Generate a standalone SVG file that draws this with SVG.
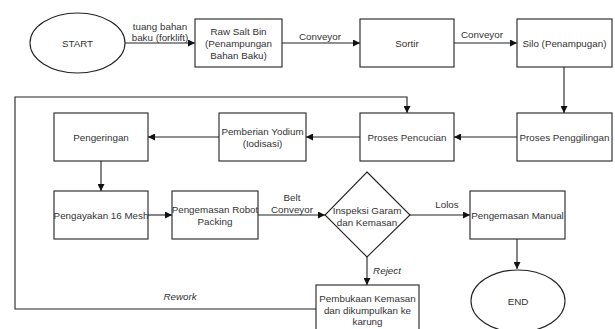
<svg xmlns="http://www.w3.org/2000/svg" width="615" height="329" viewBox="0 0 615 329">
<style>
.n{fill:#fff;stroke:#222;stroke-width:1.1}
.t{font-family:"Liberation Sans",Arial,sans-serif;font-size:9.8px;fill:#333;text-anchor:middle}
.i{font-style:italic}
.e{fill:none;stroke:#222;stroke-width:1.1}
</style>
<defs>
<marker id="a" viewBox="0 0 10 10" refX="10" refY="5" markerWidth="7" markerHeight="7" markerUnits="userSpaceOnUse" orient="auto">
<path d="M0,0 L10,5 L0,10 z" fill="#111"/>
</marker>
</defs>
<rect width="615" height="329" fill="#fff"/>
<g id="connectors">
<path class="e" d="M125,43 H195" marker-end="url(#a)"/>
<path class="e" d="M282,43 H360" marker-end="url(#a)"/>
<path class="e" d="M454,43 H517" marker-end="url(#a)"/>
<path class="e" d="M564,67 V113" marker-end="url(#a)"/>
<path class="e" d="M517,137 H454" marker-end="url(#a)"/>
<path class="e" d="M360,137 H306" marker-end="url(#a)"/>
<path class="e" d="M219,137 H148" marker-end="url(#a)"/>
<path class="e" d="M101,161 V191" marker-end="url(#a)"/>
<path class="e" d="M148,215 H172" marker-end="url(#a)"/>
<path class="e" d="M258,215 H325" marker-end="url(#a)"/>
<path class="e" d="M410,215 H470" marker-end="url(#a)"/>
<path class="e" d="M517,239 V269" marker-end="url(#a)"/>
<path class="e" d="M367,257 V285" marker-end="url(#a)"/>
<path class="e" d="M316,309 H15 V97 H407 V113" marker-end="url(#a)"/>
<text class="t" x="160" y="30">tuang bahan</text>
<text class="t" x="160" y="41">baku (forklift)</text>
<text class="t" x="320" y="40">Conveyor</text>
<text class="t" x="482" y="38">Conveyor</text>
<text class="t" x="292" y="201">Belt</text>
<text class="t" x="292" y="213">Conveyor</text>
<text class="t" x="447" y="208">Lolos</text>
<text class="t i" x="387" y="274">Reject</text>
<text class="t i" x="180" y="300">Rework</text>
</g>
<g id="start"><ellipse class="n" cx="77.5" cy="43" rx="47.5" ry="30"/><text class="t" x="77.5" y="47">START</text></g>
<g id="raw"><rect class="n" x="195" y="19" width="87" height="48"/><text class="t" x="238.5" y="35">Raw Salt Bin</text><text class="t" x="238.5" y="47">(Penampungan</text><text class="t" x="238.5" y="59">Bahan Baku)</text></g>
<g id="sortir"><rect class="n" x="360" y="19" width="94" height="48"/><text class="t" x="407" y="47">Sortir</text></g>
<g id="silo"><rect class="n" x="517" y="19" width="95" height="48"/><text class="t" x="564.5" y="47">Silo (Penampugan)</text></g>
<g id="penggilingan"><rect class="n" x="517" y="113" width="95" height="48"/><text class="t" x="564.5" y="141">Proses Penggilingan</text></g>
<g id="pencucian"><rect class="n" x="360" y="113" width="94" height="48"/><text class="t" x="407" y="141">Proses Pencucian</text></g>
<g id="yodium"><rect class="n" x="219" y="113" width="87" height="48"/><text class="t" x="262.5" y="135">Pemberian Yodium</text><text class="t" x="262.5" y="147">(Iodisasi)</text></g>
<g id="pengeringan"><rect class="n" x="54" y="113" width="94" height="48"/><text class="t" x="101" y="141">Pengeringan</text></g>
<g id="pengayakan"><rect class="n" x="54" y="191" width="94" height="48"/><text class="t" x="101" y="219">Pengayakan 16 Mesh</text></g>
<g id="robot"><rect class="n" x="172" y="191" width="86" height="48"/><text class="t" x="215" y="213">Pengemasan Robot</text><text class="t" x="215" y="225">Packing</text></g>
<g id="inspeksi"><path class="n" d="M367,172 L410,215 L367,257 L325,215 Z"/><text class="t" x="367" y="214">Inspeksi Garam</text><text class="t" x="367" y="226">dan Kemasan</text></g>
<g id="manual"><rect class="n" x="470" y="191" width="95" height="48"/><text class="t" x="517.5" y="219">Pengemasan Manual</text></g>
<g id="end"><ellipse class="n" cx="518" cy="301" rx="47" ry="31"/><text class="t" x="518" y="305">END</text></g>
<g id="pembukaan"><rect class="n" x="316" y="285" width="103" height="48"/><text class="t" x="367.5" y="302">Pembukaan Kemasan</text><text class="t" x="367.5" y="314">dan dikumpulkan ke</text><text class="t" x="367.5" y="325">karung</text></g>
</svg>
